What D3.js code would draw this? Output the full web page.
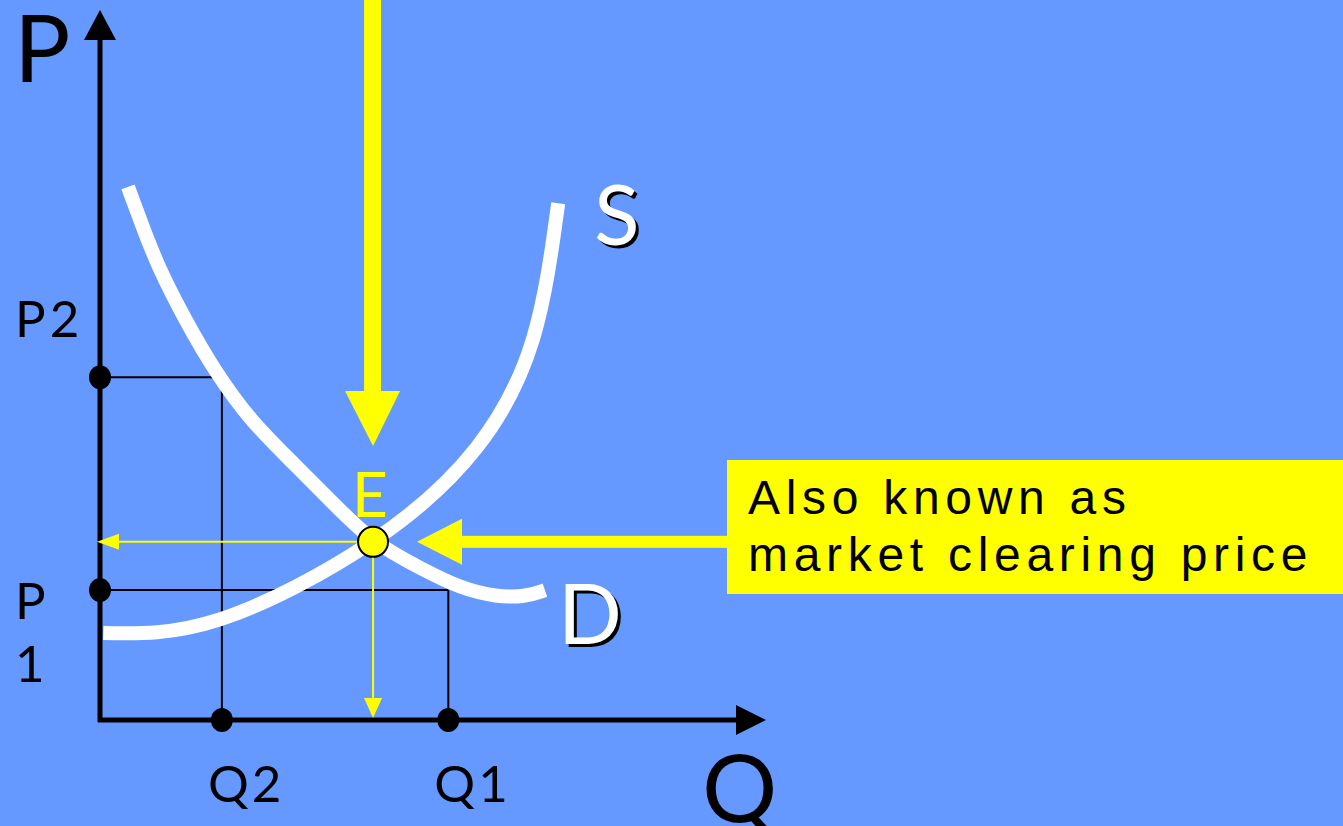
<!DOCTYPE html>
<html lang="en">
<head>
<meta charset="UTF-8">
<title>Market equilibrium</title>
<script src="https://d3js.org/d3.v7.min.js"></script>
<style>
  html, body { margin:0; padding:0; background:#6699ff; overflow:hidden; }
  svg { display:block; }
  .lbl { font-family:Lato, "Open Sans", sans-serif; fill:#000; }
  .box-text { font-family:"Liberation Sans", Arial, sans-serif; font-size:48px; letter-spacing:5.7px; fill:#000; }
</style>
</head>
<body>
<div id="chart"></div>
<script>
// curves (Q, P in 0..100 units)
const supplyQ = [0.5, 18.0, 40.8, 56.5, 65.0, 68.8];
const supplyP = [12.8, 14.8, 26.2, 40.0, 56.0, 76.0];
const demandQ = [4.2, 6.3, 8.6, 12.8, 17.3, 22.5, 29.0, 35.3, 40.8, 48.5, 54.1, 59.6, 63.8, 66.8];
const demandP = [78.4, 72.8, 66.9, 58.8, 51.2, 44.1, 37.8, 31.6, 26.2, 22.1, 19.4, 18.1, 18.1, 19.1];

const qLabels = ["Q2", "Q1"];
const qValues = [18.3, 52.3];
const pLabels = ["P2", "P1"];
const pValues = [50.4, 19.1];
const equilibrium = [41.0, 26.2];

const W = 1343, H = 826;
const svg = d3.select("#chart").append("svg").attr("width", W).attr("height", H);
svg.append("rect").attr("width", W).attr("height", H).attr("fill", "#6699ff");

const x = d3.scaleLinear().domain([0, 100]).range([100, 766]);
const y = d3.scaleLinear().domain([0, 100]).range([720, 40]);

const x0 = x(0), y0 = y(0);

// guide lines P2-Q2, P1-Q1
const guides = svg.append("g").attr("stroke", "#000").attr("stroke-width", 2);
qValues.forEach((q, i) => {
  guides.append("line").attr("x1", x0).attr("y1", y(pValues[i])).attr("x2", x(q)).attr("y2", y(pValues[i]));
  guides.append("line").attr("x1", x(q)).attr("y1", y(pValues[i])).attr("x2", x(q)).attr("y2", y0);
});

// axes with arrowheads
svg.append("line").attr("x1", x0).attr("y1", y0 + 2).attr("x2", x0).attr("y2", y(100))
  .attr("stroke", "#000").attr("stroke-width", 5);
svg.append("line").attr("x1", x0 - 2).attr("y1", y0).attr("x2", x(100) - 30).attr("y2", y0)
  .attr("stroke", "#000").attr("stroke-width", 5);
svg.append("path").attr("fill", "#000")
  .attr("d", `M${x0},${y(100) - 30}L${x0 + 16},${y(100)}L${x0 - 16},${y(100)}Z`);
svg.append("path").attr("fill", "#000")
  .attr("d", `M${x(100)},${y0}L${x(100) - 30},${y0 - 15}L${x(100) - 30},${y0 + 15}Z`);

// curves
const supplyLine = d3.line().x(d => x(d[0])).y(d => y(d[1])).curve(d3.curveNatural);
const demandLine = d3.line().x(d => x(d[0])).y(d => y(d[1])).curve(d3.curveBasis);
svg.append("path").datum(supplyQ.map((q, i) => [q, supplyP[i]]))
  .attr("d", supplyLine).attr("fill", "none").attr("stroke", "#fff").attr("stroke-width", 14);
svg.append("path").datum(demandQ.map((q, i) => [q, demandP[i]]))
  .attr("d", demandLine).attr("fill", "none").attr("stroke", "#fff").attr("stroke-width", 14);

// dots on the axes
pValues.forEach(p => svg.append("ellipse").attr("cx", x0).attr("cy", y(p)).attr("rx", 11).attr("ry", 12).attr("fill", "#000"));
qValues.forEach(q => svg.append("ellipse").attr("cx", x(q)).attr("cy", y0).attr("rx", 11).attr("ry", 12).attr("fill", "#000"));

// thin yellow arrows from E to the axes
const ex = x(equilibrium[0]), ey = y(equilibrium[1]);
svg.append("line").attr("x1", ex).attr("y1", ey).attr("x2", x0 + 10).attr("y2", ey)
  .attr("stroke", "#ffff00").attr("stroke-width", 2);
svg.append("path").attr("fill", "#ffff00")
  .attr("d", `M${x0 - 3},${ey}L${x0 + 19},${ey - 8}L${x0 + 19},${ey + 8}Z`);
svg.append("line").attr("x1", ex).attr("y1", ey).attr("x2", ex).attr("y2", y0 - 10)
  .attr("stroke", "#ffff00").attr("stroke-width", 2);
svg.append("path").attr("fill", "#ffff00")
  .attr("d", `M${ex},${y0 - 2}L${ex - 9},${y0 - 22}L${ex + 9},${y0 - 22}Z`);

// equilibrium point
svg.append("circle").attr("cx", ex).attr("cy", ey).attr("r", 15)
  .attr("fill", "#ffff00").attr("stroke", "#000").attr("stroke-width", 2);

// big arrow from the top
svg.append("rect").attr("x", ex - 9).attr("y", 0).attr("width", 17).attr("height", 392).attr("fill", "#ffff00");
svg.append("path").attr("fill", "#ffff00").attr("d", `M${ex - 28},391L${ex + 27},391L${ex},446Z`);

// call-out box and its arrow
svg.append("rect").attr("x", 462).attr("y", ey - 6).attr("width", 266).attr("height", 12).attr("fill", "#ffff00");
svg.append("path").attr("fill", "#ffff00").attr("d", `M417,${ey}L462,${ey - 23}L462,${ey + 23}Z`);
svg.append("rect").attr("x", 727).attr("y", 460).attr("width", 616).attr("height", 134).attr("fill", "#ffff00");
svg.append("text").attr("class", "box-text").attr("x", 748).attr("y", 514).text("Also known as");
svg.append("text").attr("class", "box-text").attr("x", 748).attr("y", 571).text("market clearing price");

// axis titles
svg.append("text").attr("class", "lbl").attr("x", 14).attr("y", 82).attr("font-size", 94).text("P");
svg.append("text").attr("class", "lbl").attr("x", 702).attr("y", 822).attr("font-size", 94).text("Q");

// tick labels
svg.append("text").attr("class", "lbl").attr("x", 15).attr("y", 337).attr("font-size", 51)
  .attr("letter-spacing", 4).text(pLabels[0]);
svg.append("text").attr("class", "lbl").attr("x", 15).attr("y", 619).attr("font-size", 51).text(pLabels[1][0]);
svg.append("text").attr("class", "lbl").attr("x", 15).attr("y", 682).attr("font-size", 51).text(pLabels[1][1]);
qLabels.forEach((t, i) => {
  svg.append("text").attr("class", "lbl").attr("x", x(qValues[i]) - 14).attr("y", 802)
    .attr("font-size", 51).attr("letter-spacing", 3).text(t);
});

// curve names with drop shadow
function shadowed(t, px, py, size, fill) {
  svg.append("text").attr("class", "lbl").attr("x", px + 3).attr("y", py + 3).attr("font-size", size).attr("fill", "#000").text(t);
  svg.append("text").attr("class", "lbl").attr("x", px).attr("y", py).attr("font-size", size).style("fill", fill).text(t);
}
shadowed("S", 594, 245, 84, "#fff");
shadowed("D", 558, 644, 84, "#fff");
svg.append("text").attr("class", "lbl").attr("x", 352).attr("y", 517).attr("font-size", 62)
  .style("fill", "#ffff00").text("E");
</script>
</body>
</html>
